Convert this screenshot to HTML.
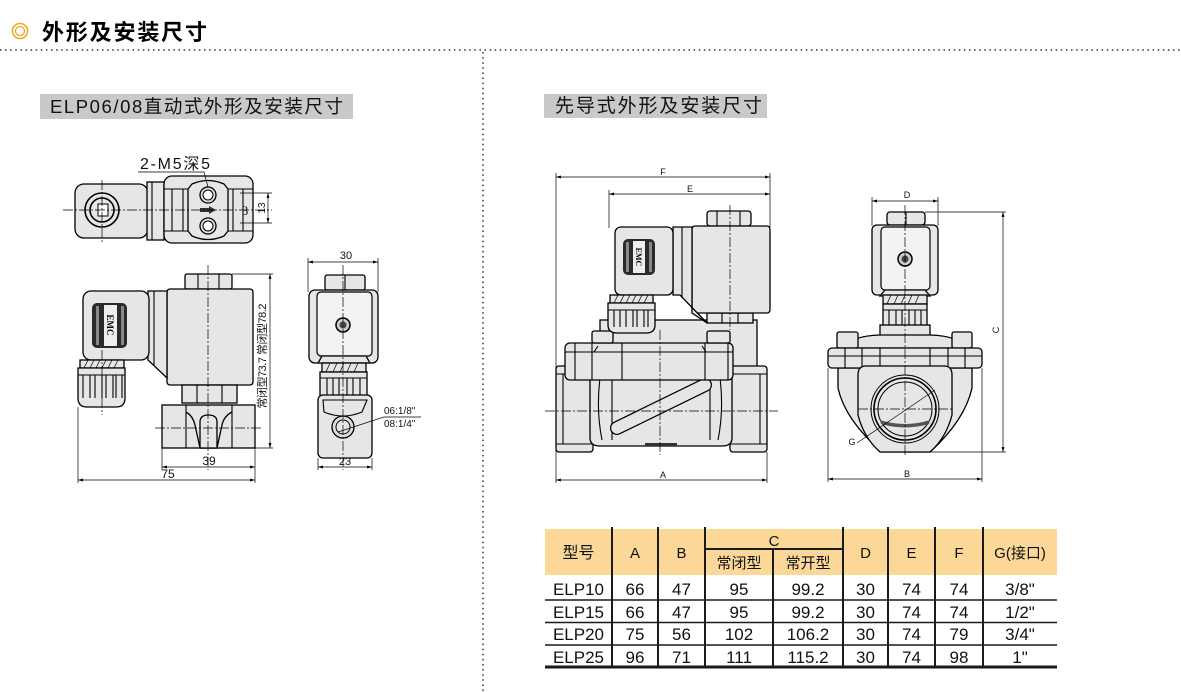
<!DOCTYPE html>
<html><head><meta charset="utf-8">
<style>
html,body{margin:0;padding:0;background:#fff;}
svg{display:block;}
text{font-family:"Liberation Sans","Noto Sans CJK SC",sans-serif;fill:#111;}
.g{fill:#e6e6e6;stroke:#000;stroke-width:1.3;}
.w{fill:#f3f3f3;stroke:#000;stroke-width:1.2;}
.d{fill:none;stroke:#000;stroke-width:0.7;}
.l{fill:none;stroke:#000;stroke-width:1.1;}
.c{fill:none;stroke:#000;stroke-width:0.7;stroke-dasharray:10 2 2 2;}
.m{marker-start:url(#a);marker-end:url(#a);}
</style></head>
<body>
<svg width="1181" height="692" viewBox="0 0 1181 692" xmlns="http://www.w3.org/2000/svg">
<defs>
<marker id="a" viewBox="0 0 10 10" refX="10" refY="5" markerWidth="7" markerHeight="7" orient="auto-start-reverse"><path d="M0 2 L10 5 L0 8 Z" fill="#000"/></marker>
</defs>

<!-- Header -->
<circle cx="20" cy="31" r="7.5" fill="none" stroke="#f5a623" stroke-width="1.6"/>
<circle cx="20" cy="31" r="4.5" fill="none" stroke="#f5a623" stroke-width="1.3"/>
<text x="42" y="40" font-size="22" font-weight="bold" textLength="165" lengthAdjust="spacing" style="fill:#000">外形及安装尺寸</text>
<line x1="0" y1="50" x2="1181" y2="50" stroke="#333" stroke-width="1.5" stroke-dasharray="1.5 3.6"/>
<line x1="483" y1="52" x2="483" y2="692" stroke="#333" stroke-width="1.5" stroke-dasharray="1.5 3.6"/>

<!-- Labels -->
<rect x="40" y="94" width="313" height="25" fill="#c9c9c9"/>
<text x="50" y="113" font-size="18.5" textLength="293" lengthAdjust="spacing">ELP06/08直动式外形及安装尺寸</text>
<rect x="544" y="94" width="223" height="24" fill="#c9c9c9"/>
<text x="555" y="112" font-size="19" textLength="207" lengthAdjust="spacing">先导式外形及安装尺寸</text>

<!-- ============ Drawing 1 : top view ============ -->
<rect class="g" x="75" y="184" width="73" height="54" rx="9"/>
<rect class="g" x="147" y="182" width="17" height="58"/>
<line class="l" x1="152" y1="182" x2="152" y2="240"/>
<rect class="g" x="164" y="176" width="89" height="67" rx="8"/>
<path class="l" d="M164 189 H253 M164 231 H253 M172 189 V231 M183 189 V231 M233 189 V231 M243 189 V231"/>
<path class="g" d="M192 184 Q208 177 224 184 L228 189 L228 231 L224 236 Q208 243 192 236 L188 231 L188 189 Z"/>
<circle cx="102" cy="210" r="17" fill="#e6e6e6" stroke="#000" stroke-width="1.6"/>
<circle cx="102" cy="210" r="12" fill="#e6e6e6" stroke="#000" stroke-width="1.6"/>
<rect x="98" y="204" width="10" height="12" fill="#fff" stroke="#000"/>
<circle cx="208" cy="195" r="8" fill="#ddd" stroke="#000" stroke-width="1.3"/>
<circle cx="208" cy="195" r="5" fill="#fff" stroke="#000"/>
<circle cx="208" cy="226" r="8" fill="#ddd" stroke="#000" stroke-width="1.3"/>
<circle cx="208" cy="226" r="5" fill="#fff" stroke="#000"/>
<rect x="200" y="208" width="9" height="4" fill="#333"/>
<path d="M209 206 L216 210 L209 214 Z" fill="#333"/>
<line class="c" x1="63" y1="210" x2="272" y2="210"/>
<line class="c" x1="102" y1="180" x2="102" y2="242"/>
<line class="d" x1="240" y1="193" x2="272" y2="193"/>
<line class="d" x1="240" y1="223" x2="272" y2="223"/>
<line class="d m" x1="268" y1="193" x2="268" y2="223"/>
<text x="0" y="0" font-size="10" text-anchor="middle" transform="translate(265 208) rotate(-90)">13</text>
<text x="245" y="215" font-size="13" text-anchor="middle" style="font-family:'Liberation Serif',serif">3</text>
<text x="140" y="169" font-size="16" textLength="70" lengthAdjust="spacing">2-M5深5</text>
<path class="d" d="M138 172 H204 L208 187"/>

<!-- ============ Drawing 2 : side view ============ -->
<rect class="g" x="185" y="274" width="47" height="15" rx="2"/>
<path class="l" d="M198 274 V289 M219 274 V289"/>
<rect class="g" x="167" y="289" width="86" height="96" rx="3"/>
<path class="g" d="M148 291 H167 V378 L148 360 Z"/>
<line class="l" x1="154" y1="291" x2="154" y2="366"/>
<rect class="g" x="83" y="291" width="66" height="69" rx="8"/>
<rect x="92" y="303" width="35" height="45" rx="5" fill="#2a2a2a"/>
<rect x="96" y="306" width="3" height="39" fill="#888"/>
<rect x="121" y="306" width="3" height="39" fill="#888"/>
<rect x="104" y="305" width="13" height="41" fill="#eee"/>
<text x="0" y="0" font-size="9" font-weight="bold" text-anchor="middle" transform="translate(107 325) rotate(90)" style="font-family:'Liberation Serif',serif;fill:#000">EMC</text>
<rect class="g" x="80" y="360" width="44" height="8"/>
<path class="d" d="M84 368 L88 360 M90 368 L94 360 M96 368 L100 360 M102 368 L106 360 M108 368 L112 360 M114 368 L118 360"/>
<path class="g" d="M78 368 H125 V398 Q125 407 116 407 H87 Q78 407 78 398 Z"/>
<path class="l" d="M78 375 H125"/>
<path class="l" d="M83 375 V398 M90 375 V398 M95 375 V398 M102 375 V398 M106 375 V398 M113 375 V398 M116 375 V398 M122 375 V398"/>
<rect class="g" x="182" y="385" width="55" height="18"/>
<path class="l" d="M197 385 V403 M222 385 V403"/>
<rect class="g" x="162" y="405" width="93" height="43"/>
<path class="l" d="M186 405 V448 M232 405 V448"/>
<path class="g" d="M186 412 Q193 416 195 425 L200 448 H217 L222 425 Q224 416 232 412"/>
<path class="g" d="M200 448 V422 Q200 415 208.5 415 Q217 415 217 422 V448 Z"/>
<line class="c" x1="208" y1="265" x2="208" y2="470"/>
<line class="c" x1="102" y1="350" x2="102" y2="415"/>
<line class="c" x1="155" y1="428" x2="262" y2="428"/>
<line class="d" x1="232" y1="274" x2="273" y2="274"/>
<line class="d" x1="255" y1="448" x2="273" y2="448"/>
<line class="d m" x1="270" y1="274" x2="270" y2="448"/>
<text x="0" y="0" font-size="11" text-anchor="middle" transform="translate(266 356) rotate(-90)" textLength="105" lengthAdjust="spacing">常闭型73.7 常闭型78.2</text>
<line class="d" x1="78" y1="407" x2="78" y2="483"/>
<line class="d" x1="162" y1="448" x2="162" y2="470"/>
<line class="d" x1="255" y1="448" x2="255" y2="483"/>
<line class="d m" x1="162" y1="467" x2="255" y2="467"/>
<text x="209" y="465" font-size="12" text-anchor="middle">39</text>
<line class="d m" x1="78" y1="480" x2="255" y2="480"/>
<text x="168" y="478" font-size="12" text-anchor="middle">75</text>

<!-- ============ Drawing 3 : front small ============ -->
<line class="d" x1="308" y1="258" x2="308" y2="292"/>
<line class="d" x1="378" y1="258" x2="378" y2="292"/>
<line class="d m" x1="308" y1="262" x2="378" y2="262"/>
<text x="346" y="259" font-size="11" text-anchor="middle">30</text>
<rect class="g" x="325" y="275" width="40" height="15" rx="2"/>
<line class="l" x1="345" y1="275" x2="345" y2="290"/>
<rect class="g" x="309" y="290" width="69" height="73" rx="6"/>
<rect class="w" x="317" y="292" width="55" height="64" rx="4"/>
<circle cx="343" cy="325" r="7" fill="#ccc" stroke="#000" stroke-width="1.5"/>
<circle cx="343" cy="325" r="3.5" fill="#444"/>
<path class="g" d="M322 356 L366 356 L370 363 L318 363 Z"/>
<rect class="g" x="322" y="363" width="44" height="9"/>
<path class="d" d="M326 372 L330 363 M333 372 L337 363 M340 372 L344 363 M347 372 L351 363 M354 372 L358 363"/>
<rect class="g" x="320" y="372" width="47" height="25"/>
<path class="l" d="M320 378 H367 M327 378 V397 M333 378 V397 M339 378 V397 M347 378 V397 M353 378 V397 M360 378 V397"/>
<rect class="g" x="318" y="395" width="54" height="63" rx="5"/>
<path class="l" d="M323 400 H367 L362 412 Q343 420 324 412 Z"/>
<circle cx="343" cy="427" r="11" fill="#ddd" stroke="#000" stroke-width="1.3"/>
<circle cx="343" cy="427" r="7" fill="#e6e6e6" stroke="#000"/>
<line class="c" x1="343" y1="265" x2="343" y2="470"/>
<text x="384" y="414" font-size="10">06:1/8"</text>
<text x="384" y="427" font-size="10">08:1/4"</text>
<path class="d" d="M421 417 H384 L338 432"/>
<line class="d" x1="318" y1="458" x2="318" y2="470"/>
<line class="d" x1="372" y1="458" x2="372" y2="470"/>
<line class="d m" x1="318" y1="467" x2="372" y2="467"/>
<text x="345" y="465" font-size="11" text-anchor="middle">23</text>

<!-- ============ Drawing 4 : pilot front ============ -->
<line class="d" x1="556" y1="173" x2="556" y2="483"/>
<line class="d" x1="770" y1="173" x2="770" y2="227"/>
<line class="d" x1="609" y1="190" x2="609" y2="228"/>
<line class="d m" x1="556" y1="177" x2="770" y2="177"/>
<text x="663" y="175" font-size="9" text-anchor="middle">F</text>
<line class="d m" x1="609" y1="194" x2="770" y2="194"/>
<text x="690" y="192" font-size="9" text-anchor="middle">E</text>
<rect class="g" x="600" y="320" width="157" height="47"/>
<rect class="g" x="556" y="366" width="37" height="86" rx="3"/>
<rect class="g" x="730" y="366" width="37" height="86" rx="3"/>
<path class="l" d="M556 374 H593 M556 444 H593 M730 374 H767 M730 444 H767 M563 374 V444 M760 374 V444"/>
<path class="g" d="M590 376 L732 376 L732 438 Q732 446 722 446 L600 446 Q590 446 590 438 Z"/>
<path class="l" d="M600 378 Q596 410 602 440 M612 378 L612 440 M720 378 Q724 410 718 440 M710 378 L710 440"/>
<rect x="645" y="443" width="32" height="3" fill="#333"/>
<line x1="617" y1="428" x2="705" y2="385" stroke="#000" stroke-width="14" stroke-linecap="round"/>
<line x1="617" y1="428" x2="705" y2="385" stroke="#e6e6e6" stroke-width="11.5" stroke-linecap="round"/>
<rect class="g" x="565" y="343" width="168" height="37" rx="5"/>
<path class="l" d="M565 352 H733 M575 343 V380 M592 343 V380 M622 343 V380 M705 343 V380 M728 343 V380"/>
<path class="l" d="M570 352 H594 L598 346 M702 346 L706 352 H730"/>
<rect class="g" x="592" y="331" width="21" height="12" rx="2"/>
<rect class="g" x="707" y="331" width="23" height="12" rx="2"/>
<rect class="g" x="707" y="313" width="46" height="10"/>
<path class="l" d="M722 313 V323 M738 313 V323"/>
<rect class="g" x="707" y="211" width="44" height="15" rx="3"/>
<path class="l" d="M717 211 V226 M740 211 V226"/>
<rect class="g" x="692" y="226" width="78" height="87" rx="3"/>
<path class="g" d="M673 227 H692 V313 L707 323 L680 295 L673 295 Z"/>
<line class="l" x1="682" y1="227" x2="682" y2="298"/>
<rect class="g" x="615" y="227" width="58" height="68" rx="6"/>
<rect x="623" y="239" width="32" height="36" rx="5" fill="#2a2a2a"/>
<rect x="626" y="242" width="3" height="30" fill="#888"/>
<rect x="649" y="242" width="3" height="30" fill="#888"/>
<rect x="633" y="241" width="12" height="32" fill="#eee"/>
<text x="0" y="0" font-size="8" font-weight="bold" text-anchor="middle" transform="translate(636 257) rotate(90)" style="font-family:'Liberation Serif',serif;fill:#000">EMC</text>
<rect class="g" x="610" y="295" width="43" height="8"/>
<path class="d" d="M614 303 L618 295 M620 303 L624 295 M626 303 L630 295 M632 303 L636 295 M638 303 L642 295 M644 303 L648 295"/>
<path class="g" d="M608 303 H655 V325 Q655 333 646 333 H617 Q608 333 608 325 Z"/>
<path class="l" d="M608 310 H655 M614 310 V327 M620 310 V327 M626 310 V327 M633 310 V327 M637 310 V327 M644 310 V327 M648 310 V327"/>
<line class="c" x1="545" y1="411" x2="778" y2="411"/>
<line class="c" x1="660" y1="330" x2="660" y2="455"/>
<line class="c" x1="730" y1="205" x2="730" y2="330"/>
<line class="d" x1="767" y1="452" x2="767" y2="483"/>
<line class="d m" x1="556" y1="480" x2="767" y2="480"/>
<text x="663" y="478" font-size="9" text-anchor="middle">A</text>

<!-- ============ Drawing 5 : pilot side ============ -->
<line class="d" x1="872" y1="197" x2="872" y2="226"/>
<line class="d" x1="938" y1="197" x2="938" y2="226"/>
<line class="d m" x1="872" y1="201" x2="938" y2="201"/>
<text x="907" y="198" font-size="9" text-anchor="middle">D</text>
<rect class="g" x="887" y="212" width="38" height="13" rx="3"/>
<line class="l" x1="906" y1="212" x2="906" y2="225"/>
<rect class="g" x="872" y="225" width="66" height="70" rx="5"/>
<rect class="w" x="881" y="227" width="49" height="63" rx="4"/>
<circle cx="905" cy="259" r="7" fill="#ccc" stroke="#000" stroke-width="1.5"/>
<circle cx="905" cy="259" r="3.5" fill="#444"/>
<path class="g" d="M885 290 L925 290 L930 296 L880 296 Z"/>
<rect class="g" x="883" y="295" width="44" height="9"/>
<path class="d" d="M887 304 L891 295 M894 304 L898 295 M901 304 L905 295 M908 304 L912 295 M915 304 L919 295"/>
<rect class="g" x="883" y="304" width="44" height="23"/>
<path class="l" d="M883 310 H927 M889 310 V327 M896 310 V327 M902 310 V327 M909 310 V327 M915 310 V327 M921 310 V327"/>
<rect class="g" x="880" y="325" width="50" height="12"/>
<path class="g" d="M845 348 Q850 336 880 335 H930 Q960 336 965 348 Z"/>
<rect class="g" x="837" y="332" width="21" height="16" rx="2"/>
<rect class="g" x="952" y="332" width="20" height="16" rx="2"/>
<path class="g" d="M838 368 L972 368 L972 388 Q965 420 930 452 L882 452 Q845 420 838 388 Z"/>
<rect class="g" x="828" y="348" width="154" height="20" rx="4"/>
<path class="l" d="M828 356 H982 M845 348 V368 M862 348 V368 M880 348 V368 M930 348 V368 M948 348 V368 M965 348 V368"/>
<path class="g" d="M866 366 L944 366 Q952 366 952 375 L952 415 Q946 438 930 452 L880 452 Q864 438 858 415 L858 375 Q858 366 866 366 Z"/>
<circle cx="905" cy="409" r="34" fill="#e6e6e6" stroke="#000" stroke-width="1"/>
<circle cx="905" cy="409" r="31" fill="#e6e6e6" stroke="#000" stroke-width="1.6"/>
<circle cx="905" cy="409" r="27" fill="#e6e6e6" stroke="#000" stroke-width="1"/>
<path d="M880 420 Q905 428 930 420 L929 424 Q905 431 881 424 Z" fill="#555"/>
<line class="c" x1="905" y1="205" x2="905" y2="455"/>
<line class="c" x1="858" y1="409" x2="952" y2="409"/>
<line class="d" x1="925" y1="212" x2="1006" y2="212"/>
<line class="d" x1="930" y1="452" x2="1006" y2="452"/>
<line class="d m" x1="1003" y1="212" x2="1003" y2="452"/>
<text x="0" y="0" font-size="9" text-anchor="middle" transform="translate(999 330) rotate(-90)">C</text>
<line class="d" x1="828" y1="368" x2="828" y2="482"/>
<line class="d" x1="982" y1="368" x2="982" y2="482"/>
<line class="d m" x1="828" y1="479" x2="982" y2="479"/>
<text x="907" y="477" font-size="9" text-anchor="middle">B</text>
<text x="852" y="445" font-size="9" text-anchor="middle">G</text>
<line class="d" x1="857" y1="443" x2="935" y2="390"/>

<!-- ============ Table ============ -->
<rect x="545" y="529" width="512" height="46" fill="#fcd898"/>
<g stroke="#1a1a1a" stroke-width="2">
<line x1="612" y1="527" x2="612" y2="667"/>
<line x1="658" y1="527" x2="658" y2="667"/>
<line x1="705" y1="527" x2="705" y2="667"/>
<line x1="843" y1="527" x2="843" y2="667"/>
<line x1="888" y1="527" x2="888" y2="667"/>
<line x1="935" y1="527" x2="935" y2="667"/>
<line x1="983" y1="527" x2="983" y2="667"/>
<line x1="773" y1="549" x2="773" y2="667"/>
<line x1="705" y1="549" x2="843" y2="549"/>
</g>
<g stroke="#1a1a1a" stroke-width="1.6">
<line x1="545" y1="600" x2="1057" y2="600"/>
<line x1="545" y1="622.5" x2="1057" y2="622.5"/>
<line x1="545" y1="645" x2="1057" y2="645"/>
</g>
<line x1="545" y1="667" x2="1057" y2="667" stroke="#1a1a1a" stroke-width="3"/>
<g font-size="15" text-anchor="middle">
<text x="578.5" y="558" font-size="16">型号</text>
<text x="635" y="558">A</text>
<text x="681.5" y="558">B</text>
<text x="774" y="546">C</text>
<text x="739" y="568">常闭型</text>
<text x="808" y="568">常开型</text>
<text x="865.5" y="558">D</text>
<text x="911.5" y="558">E</text>
<text x="959" y="558">F</text>
<text x="1020" y="558">G(接口)</text>
</g>
<g font-size="17" text-anchor="middle">
<text x="578.5" y="595">ELP10</text><text x="635" y="595">66</text><text x="681.5" y="595">47</text><text x="739" y="595">95</text><text x="808" y="595">99.2</text><text x="865.5" y="595">30</text><text x="911.5" y="595">74</text><text x="959" y="595">74</text><text x="1020" y="595">3/8"</text>
<text x="578.5" y="618">ELP15</text><text x="635" y="618">66</text><text x="681.5" y="618">47</text><text x="739" y="618">95</text><text x="808" y="618">99.2</text><text x="865.5" y="618">30</text><text x="911.5" y="618">74</text><text x="959" y="618">74</text><text x="1020" y="618">1/2"</text>
<text x="578.5" y="640">ELP20</text><text x="635" y="640">75</text><text x="681.5" y="640">56</text><text x="739" y="640">102</text><text x="808" y="640">106.2</text><text x="865.5" y="640">30</text><text x="911.5" y="640">74</text><text x="959" y="640">79</text><text x="1020" y="640">3/4"</text>
<text x="578.5" y="663">ELP25</text><text x="635" y="663">96</text><text x="681.5" y="663">71</text><text x="739" y="663">111</text><text x="808" y="663">115.2</text><text x="865.5" y="663">30</text><text x="911.5" y="663">74</text><text x="959" y="663">98</text><text x="1020" y="663">1"</text>
</g>
</svg>
</body></html>
